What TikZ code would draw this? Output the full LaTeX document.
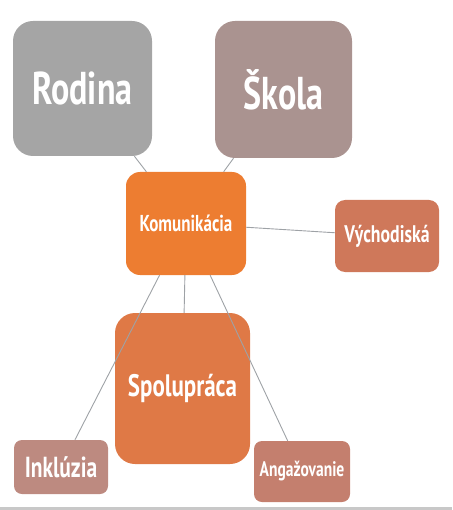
\documentclass[tikz,border=0pt]{standalone}
\usepackage{fontspec}
\setmainfont{PT Sans}[FakeStretch=0.74]
\definecolor{cRod}{HTML}{A5A5A5}
\definecolor{cSko}{HTML}{AA9390}
\definecolor{cKom}{HTML}{ED7D31}
\definecolor{cVych}{HTML}{CF785A}
\definecolor{cSpol}{HTML}{DF7946}
\definecolor{cInk}{HTML}{BD8A80}
\definecolor{cAng}{HTML}{C47F6E}
\definecolor{cLine}{HTML}{9EA2A6}
\definecolor{cBar}{HTML}{C8C8C8}
\begin{document}
\begin{tikzpicture}[x=1pt,y=-1pt,
  box/.style={rectangle,inner sep=0pt,text=white,font=\bfseries},
  conn/.style={draw=cLine,line width=0.9pt}]
\useasboundingbox (0,0) rectangle (452,510);
\fill[cBar] (0,507) rectangle (452,510);
\node[box,fill=cRod,rounded corners=20pt,minimum width=139pt,minimum height=135pt,font=\bfseries\fontsize{46}{48}\selectfont] (rod) at (82.5,88.5) {Rodina};
\node[box,fill=cSko,rounded corners=20pt,minimum width=137pt,minimum height=137pt,font=\bfseries\fontsize{46}{48}\selectfont] (sko) at (283.5,89.5) {Škola};
\node[box,fill=cKom,rounded corners=14pt,minimum width=120pt,minimum height=103pt,font=\bfseries\fontsize{23}{25}\selectfont] (kom) at (186,223.5) {Komunikácia};
\node[box,fill=cVych,rounded corners=10pt,minimum width=104pt,minimum height=72pt,font=\bfseries\fontsize{24}{26}\selectfont] (vych) at (387,236) {Východiská};
\node[box,fill=cSpol,rounded corners=20pt,minimum width=135pt,minimum height=151pt,font=\bfseries\fontsize{31}{33}\selectfont] (spol) at (182.5,388.5) {Spolupráca};
\node[box,fill=cInk,rounded corners=8pt,minimum width=94pt,minimum height=54pt,font=\bfseries\fontsize{29}{31}\selectfont] (ink) at (61,467) {Inklúzia};
\node[box,fill=cAng,rounded corners=8pt,minimum width=96pt,minimum height=61pt,font=\bfseries\fontsize{21}{23}\selectfont] (ang) at (302,471.5) {Angažovanie};
\draw[conn] (rod) -- (kom);
\draw[conn] (sko) -- (kom);
\draw[conn] (kom) -- (vych);
\draw[conn] (kom) -- (spol);
\draw[conn] (kom) -- (ink);
\draw[conn] (kom) -- (ang);
\end{tikzpicture}
\end{document}
